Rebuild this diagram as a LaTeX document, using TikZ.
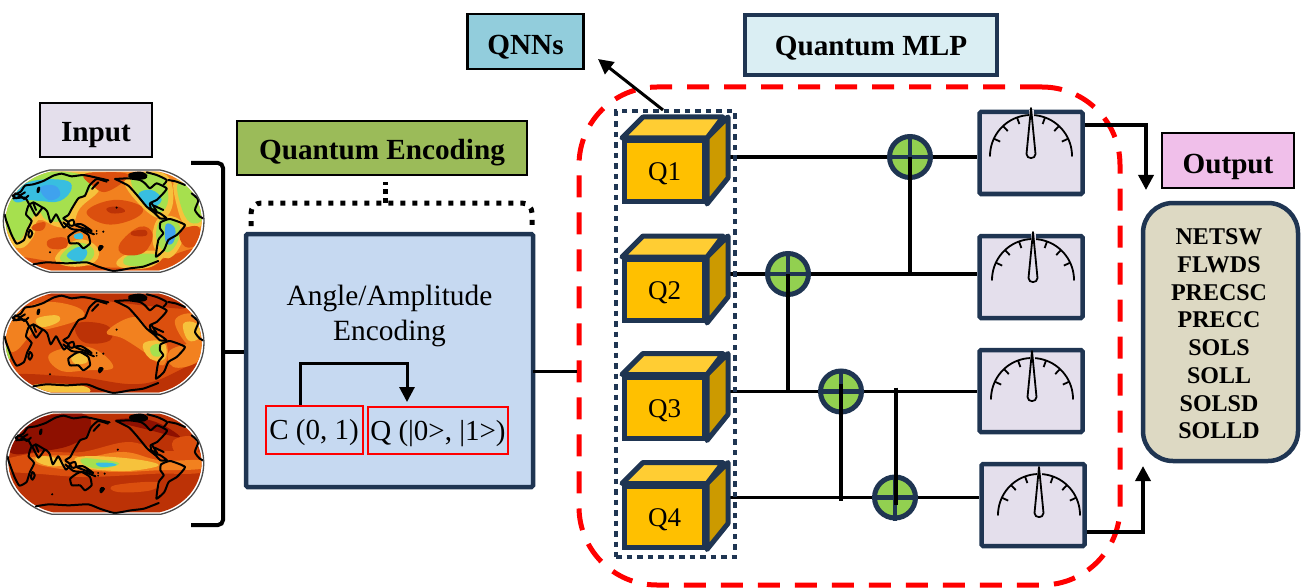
\documentclass[tikz,border=0pt]{standalone}
\usepackage{fontspec}
\setmainfont{Liberation Serif}
\usetikzlibrary{arrows.meta, backgrounds, calc}
\definecolor{navy}{HTML}{1F3552}
\definecolor{lilac}{HTML}{E4DFEC}
\definecolor{qegreen}{HTML}{9BBB59}
\definecolor{qnnblue}{HTML}{92CDDC}
\definecolor{mlpblue}{HTML}{DAEEF3}
\definecolor{outpink}{HTML}{F0BFEA}
\definecolor{outtan}{HTML}{DDD9C3}
\definecolor{encblue}{HTML}{C6D9F1}
\definecolor{cubefront}{HTML}{FFC000}
\definecolor{cubetop}{HTML}{FFCD33}
\definecolor{cubeside}{HTML}{CC9A00}
\definecolor{gategreen}{HTML}{92D050}
\definecolor{mapcy}{HTML}{38BEE0}
\definecolor{mapbl}{HTML}{3FA2EE}
\definecolor{mapgr}{HTML}{A6E04E}
\definecolor{mapye}{HTML}{F6C23C}
\definecolor{mapor}{HTML}{F2811F}
\definecolor{mapdo}{HTML}{DB4F0E}
\definecolor{maprd}{HTML}{BC3206}
\definecolor{mapdk}{HTML}{8E1000}
\tikzset{%
	tag/.style={draw, rectangle, line width=2.5pt, inner sep=0pt, font=\fontsize{29.2}{32}\selectfont\bfseries, text depth=6pt},
	navybox/.style={draw=navy, rectangle, line width=4.5pt, rounded corners=1.5pt, inner sep=0pt},
	redbox/.style={draw=red, rectangle, line width=2pt, inner sep=0pt, font=\fontsize{29}{32}\selectfont, text height=25.6pt, text depth=6pt},
	qcube/.style={draw=navy, rectangle, line width=5pt, minimum width=80pt, minimum height=61pt,%
		inner sep=0pt, fill=cubefront, font=\fontsize{27}{30}\selectfont, text height=25pt, text depth=6pt},
	cubeface/.style={draw=navy, line width=5pt, line join=round},
	gate/.style={draw=navy, circle, line width=5pt, minimum size=41pt, inner sep=0pt, fill=gategreen},
	meter/.style={navybox, minimum width=103pt, minimum height=82pt, fill=lilac},
	wire/.style={line width=3.5pt},
	sel/.style={-{Triangle[length=15pt,width=15pt]}, line width=3.5pt},
	dial/.style={line width=1.8pt},
	coast/.style={line width=2pt, line join=round, line cap=round}
}

\newcommand{\blob}[2]{\fill[#1] plot[smooth cycle, tension=.7] coordinates {#2};}
\newcommand{\mapedge}{(150,15) .. controls (75,30) and (10,90) .. (10,168) .. controls (10,245) and (75,305) .. (150,322) -- (480,322) .. controls (555,305) and (612,245) .. (612,168) .. controls (612,90) and (555,30) .. (480,15) -- cycle}
\newcommand{\mapinner}{(153,20) .. controls (80,36) and (17,94) .. (17,168) .. controls (17,240) and (80,300) .. (153,316) -- (477,316) .. controls (550,300) and (605,240) .. (605,168) .. controls (605,94) and (550,36) .. (477,20) -- cycle}
\newcommand{\coastlines}{%
	% eurasia and africa
	\draw[coast] plot[smooth, tension=.3] coordinates {(38,92) (62,80) (75,62) (100,58) (130,48) (160,32) (185,26) (215,34) (250,30) (290,38) (325,46)};
	\draw[coast] plot[smooth, tension=.3] coordinates {(320,50) (290,42) (268,62) (255,92) (235,100) (216,130) (205,150) (190,160) (205,172) (192,188) (178,165) (168,148) (152,172) (142,140) (128,128) (108,152) (88,118) (78,148) (95,168) (82,195) (72,225) (50,236) (35,210) (18,165) (14,148)};
	\draw[coast] plot[smooth, tension=.3] coordinates {(40,100) (75,98) (88,118) (100,112) (118,122) (128,128)};
	\draw[coast] plot[smooth, tension=.4] coordinates {(38,92) (50,100) (62,92) (72,102) (85,92)};
	\draw[coast] plot[smooth, tension=.4] coordinates {(45,85) (60,90) (75,82)};
	\draw[coast] (100,115) -- (108,135);
	% americas
	\draw[coast] plot[smooth, tension=.3] coordinates {(345,42) (385,62) (415,95) (440,125) (465,145) (480,160) (500,160) (480,145) (455,135) (450,115) (470,105) (490,85) (500,70) (470,55) (450,70) (435,55) (420,45) (385,40) (345,42)};
	\draw[coast] plot[smooth cycle, tension=.3] coordinates {(482,172) (510,162) (555,180) (530,210) (505,225) (492,255) (468,275) (475,225) (490,205) (480,190)};
	\draw[coast] (462,122) -- (490,135);
	\draw[coast] (450,130) -- (470,138) -- (455,115);
	% antarctica
	\draw[coast] plot[smooth, tension=.3] coordinates {(100,298) (140,292) (200,295) (260,292) (295,305) (340,318) (390,310) (430,305) (475,288)};
	% right edge and greenland
	\draw[coast] plot[smooth, tension=.4] coordinates {(440,22) (470,30) (500,45) (490,60)};
	\draw[coast] plot[smooth, tension=.4] coordinates {(505,45) (530,50) (555,60)};
	\draw[coast] plot[smooth, tension=.4] coordinates {(575,85) (595,105) (585,135) (600,155) (610,160)};
	% australia and islands
	\draw[coast] plot[smooth cycle, tension=.3] coordinates {(205,215) (225,200) (240,195) (265,210) (270,235) (250,250) (235,235) (210,235)};
	\draw[coast] plot[smooth cycle, tension=.5] coordinates {(90,195) (97,205) (90,218) (85,210)};
	\draw[coast] plot[smooth, tension=.4] coordinates {(190,172) (215,192) (250,196) (282,208)};
	\draw[coast] plot[smooth cycle, tension=.5] coordinates {(205,170) (220,165) (222,180) (210,182)};
	\draw[coast] plot[smooth cycle, tension=.5] coordinates {(225,180) (245,178) (275,198) (250,190)};
	\draw[coast] plot[smooth, tension=.4] coordinates {(295,52) (285,62) (276,72)};
	\blob{black}{(300,240) (311,245) (299,259) (294,250)}
	\blob{black}{(385,27) (420,20) (442,30) (432,43) (395,41)}
	\blob{black}{(112,68) (120,66) (118,82) (110,82)}
	\fill (350,128) circle (3.5) (150,262) circle (3.5) (290,198) circle (3) (290,206) circle (3) (310,200) circle (3.5) (478,268) circle (3.5);
}
\newcommand{\worldmap}[3]{%
	\begin{scope}[shift={#1}, x=#2, y=-0.3333pt]
		\begin{scope}
			\clip \mapinner;
			#3
		\end{scope}
		\coastlines
		\draw[black!70, line width=1.3pt] \mapedge;
	\end{scope}
}
\newcommand{\layersa}{%
	\fill[mapor] (0,0) rectangle (630,336);
	\blob{mapdo}{(30,275) (200,295) (400,305) (590,250) (620,300) (300,340) (20,320)}
	\blob{mapye}{(5,130) (40,30) (130,10) (270,20) (300,70) (240,130) (215,185) (170,185) (115,165) (100,215) (60,250) (15,215)}
	\blob{mapgr}{(10,130) (45,45) (130,20) (240,28) (275,65) (225,115) (195,165) (140,165) (115,140) (85,180) (60,225) (25,200)}
	\blob{mapcy}{(40,90) (90,50) (190,45) (215,70) (180,108) (120,108) (85,105) (50,112)}
	\blob{mapbl}{(120,68) (165,62) (180,92) (145,105)}
	\blob{mapye}{(375,40) (490,25) (520,100) (490,160) (425,125)}
	\blob{mapgr}{(395,40) (480,32) (505,100) (478,145) (430,115)}
	\blob{mapcy}{(415,88) (455,75) (485,105) (450,128)}
	\blob{mapye}{(475,160) (540,165) (548,225) (505,280) (460,240)}
	\blob{mapgr}{(482,165) (535,175) (535,225) (502,262) (470,225)}
	\blob{mapbl}{(498,178) (525,190) (520,232) (498,232)}
	\blob{mapye}{(525,45) (590,80) (612,170) (560,185) (530,120)}
	\blob{mapgr}{(535,55) (590,90) (608,160) (570,172) (542,120)}
	\blob{mapye}{(165,280) (230,225) (290,245) (285,290) (215,305)}
	\blob{mapgr}{(180,278) (230,235) (278,250) (272,285) (215,298)}
	\blob{mapcy}{(200,272) (238,245) (262,262) (240,290)}
	\blob{mapcy}{(222,210) (245,205) (248,220) (228,222)}
	\blob{mapye}{(350,290) (400,262) (490,262) (455,305) (375,310)}
	\blob{mapgr}{(370,285) (400,268) (472,270) (450,298) (385,302)}
	\blob{mapdo}{(260,140) (340,105) (425,125) (405,160) (320,178)}
	\blob{maprd}{(320,130) (355,125) (375,140) (335,145)}
	\blob{mapdo}{(360,235) (420,185) (458,208) (432,262) (370,268)}
	\blob{maprd}{(395,200) (435,195) (438,212) (400,212)}
	\blob{mapdo}{(145,225) (195,218) (198,248) (150,250)}
	\blob{mapdo}{(100,180) (135,172) (128,195) (98,195)}
	\blob{mapdo}{(250,30) (300,22) (385,30) (320,80) (275,60)}
	\blob{mapdo}{(540,200) (595,185) (595,235) (555,245)}
}
\newcommand{\layersb}{%
	\fill[mapdo] (0,0) rectangle (630,336);
	\blob{maprd}{(20,265) (230,270) (430,290) (600,230) (620,320) (300,340) (10,320)}
	\blob{maprd}{(130,20) (480,15) (560,60) (480,60) (300,40)}
	\blob{maprd}{(230,110) (320,115) (330,160) (250,165)}
	\blob{mapor}{(20,110) (110,50) (215,55) (250,90) (150,125) (110,125) (50,190) (25,180)}
	\blob{mapye}{(110,95) (170,85) (175,105) (125,120)}
	\blob{mapor}{(320,135) (400,90) (450,130) (500,170) (490,235) (440,200) (370,155)}
	\blob{mapye}{(430,170) (490,165) (495,215) (450,215)}
	\blob{mapgr}{(452,180) (480,172) (482,205) (458,205)}
	\blob{mapor}{(525,100) (590,85) (610,170) (565,175)}
	\blob{mapye}{(550,110) (590,110) (600,150) (565,160)}
	\blob{mapor}{(150,200) (265,180) (340,240) (260,250) (180,250)}
	\blob{mapye}{(215,205) (250,200) (262,225) (225,230)}
	\blob{mapor}{(510,190) (600,170) (590,225) (520,240)}
	\blob{mapye}{(95,296) (170,290) (260,300) (250,322) (110,322)}
	\blob{mapgr}{(18,175) (28,185) (30,215) (20,215)}
}
\newcommand{\layersc}{%
	\fill[maprd] (0,0) rectangle (630,336);
	\blob{mapdk}{(25,110) (90,40) (240,20) (265,70) (205,115) (100,135) (30,140)}
	\blob{mapdk}{(340,40) (450,40) (540,90) (450,70)}
	\fill[mapdo] plot[smooth, tension=.6] coordinates {(10,155) (120,135) (240,135) (380,105) (480,130) (610,140) (610,195) (470,200) (380,205) (240,210) (100,200) (10,195)};
	\blob{mapdo}{(520,100) (580,90) (590,140) (530,140)}
	\blob{mapdo}{(340,235) (470,225) (450,250) (350,255)}
	\blob{mapor}{(90,150) (200,145) (260,150) (370,135) (480,160) (605,160) (605,185) (470,190) (360,195) (240,190) (170,185) (100,170)}
	\blob{mapye}{(105,150) (150,150) (190,170) (150,178) (105,165)}
	\blob{mapye}{(230,150) (360,152) (470,170) (440,185) (350,192) (240,180)}
	\blob{mapgr}{(240,155) (300,158) (355,170) (300,185) (250,175)}
	\blob{mapcy}{(285,168) (330,168) (345,175) (300,180)}
}

\begin{document}
\begin{tikzpicture}[x=1pt, y=-1pt]
	\useasboundingbox (0,0) rectangle (1308,588);

	% maps
	\worldmap{(0,165)}{0.3333pt}{\layersa}
	\worldmap{(0,287)}{0.3333pt}{\layersb}
	\worldmap{(3,407)}{0.328pt}{\layersc}

	% labels
	\node[tag, line width=2pt, fill=lilac, minimum width=112pt, minimum height=54pt, text height=30pt] (inp) at (96,130) {Input};
	\node[tag, fill=qegreen, minimum width=290pt, minimum height=54pt, text height=29.6pt] (qenc) at (382,148) {Quantum Encoding};
	\node[tag, fill=qnnblue, minimum width=116pt, minimum height=55pt, text height=31.6pt] (qnns) at (525.5,41.5) {QNNs};
	\node[tag, draw=navy, line width=4pt, fill=mlpblue, minimum width=252pt, minimum height=60pt, text height=25.6pt] (qmlp) at (871,45.5) {Quantum MLP};
	\node[tag, line width=2pt, fill=outpink, minimum width=132pt, minimum height=55pt, text height=31.6pt] (outp) at (1228,160.5) {Output};
	\node[navybox, fill=outtan, rounded corners=30pt, minimum width=155pt, minimum height=258pt] (outlist) at (1220.5,332) {};
	\node[font=\fontsize{24}{27.7}\selectfont\bfseries, align=center, inner sep=0pt] (outtext) at (1219,334)
		{NETSW\\FLWDS\\PRECSC\\PRECC\\SOLS\\SOLL\\SOLSD\\SOLLD};

	% encoding block
	\node[navybox, fill=encblue, minimum width=287pt, minimum height=253pt] (enc) at (389.5,360.5) {};
	\node[font=\fontsize{29.4}{34.4}\selectfont, align=center] (enctext) at (389.5,316) {Angle/Amplitude\\Encoding};
	\node[redbox, minimum width=97pt, minimum height=48pt] (cbit) at (314,429.5) {C (0, 1)};
	\node[redbox, minimum width=140pt, minimum height=47pt] (qbit) at (438,430.5) {Q (|0>, |1>)};
	\coordinate (encbend) at (407,363);
	\coordinate (enctip) at (407,402);
	\draw[sel, line width=3pt] ($(cbit.north)+(-14,0)$) |- (encbend) -- (enctip);

	% brace from the maps
	\coordinate (bracetop) at (191,163);
	\coordinate (bracebot) at (191,525);
	\coordinate (bracemid) at (223,352);
	\draw[line width=4pt, rounded corners=5pt] (bracetop) -- (bracetop -| bracemid) -- (bracebot -| bracemid) -- (bracebot);
	\draw[line width=4pt] (bracemid) -- (bracemid -| enc.west);

	% dotted bracket
	\coordinate (brkleft) at (251,226);
	\coordinate (brkright) at (532,226);
	\coordinate (brkstem) at (385,203);
	\coordinate (brkend) at (385,182);
	\draw[line width=5pt, dash pattern=on 5pt off 7pt, rounded corners=10pt] (brkleft) -- (brkleft |- brkstem) -- (brkright |- brkstem) -- (brkright);
	\draw[line width=5pt, dash pattern=on 5pt off 4pt] (brkstem) -- (brkend);

	% quantum part
	\node[draw=red, rectangle, line width=5pt, dash pattern=on 22pt off 15pt, rounded corners=78pt,%
		minimum width=541pt, minimum height=498pt] (frame) at (849.5,336) {};
	\coordinate (encout) at (533,371);
	\draw[line width=3pt] (encout) -- (encout -| frame.west);

	\node[draw=navy, rectangle, line width=4pt, dash pattern=on 5.5pt off 5pt,%
		minimum width=119pt, minimum height=445pt] (qbox) at (675.5,334) {};
	\coordinate (qout) at (663,110);
	\coordinate (qtip) at (598,59);
	\draw[sel, line width=3pt] (qout) -- (qtip);

	\foreach \name/\ypos/\lab in {q1/171/Q1, q2/290/Q2, q3/407.5/Q3, q4/516.5/Q4}{
		\node[qcube] (\name) at (664.5,\ypos) {\lab};
		\draw[cubeface, fill=cubeside] (\name.north east) -- ++(21,-21) -- ++(0,61) -- (\name.south east) -- cycle;
		\draw[cubeface, fill=cubetop] (\name.north west) -- ++(21,-21) -- ++(80,0) -- (\name.north east) -- cycle;
	}

	\node[gate] (g1) at (910,157) {};
	\node[gate] (g2) at (788,274) {};
	\node[gate] (g3) at (841,391.5) {};
	\node[gate] (g4) at (895,497.5) {};
	\foreach \g in {g1,g2,g3,g4}{
		\draw[navy, line width=4.5pt] (\g.north) -- (\g.south);
		\draw[navy, line width=4.5pt] (\g.west) -- (\g.east);
	}

	% meters
	\foreach \i/\ypos/\xmid/\dx/\dy in {1/153/1031/0/3, 2/277/1031/2/3, 3/391/1031/1/8, 4/505/1033/6/10}{
		\node[meter] (m\i) at (\xmid,\ypos) {};
		\begin{scope}[shift={($(m\i.center)+(\dx,\dy)$)}]
			\draw[dial, line cap=round] plot[domain=0:180, samples=40] ({41*cos(\x)},{-41*sin(\x)});
			\foreach \a in {25,47,70,110,133,155}
				\draw[dial] ({41*cos(\a)},{-41*sin(\a)}) -- ({34*cos(\a)},{-34*sin(\a)});
			\draw[lilac, line width=5pt] (0,-46) -- (0,-30);
			\draw[dial, fill=lilac, line join=round] (0,-48) -- (4.5,-2) .. controls (4.5,3.5) and (-4.5,3.5) .. (-4.5,-2) -- cycle;
		\end{scope}
	}

	% wires go behind the gates and cubes
	\begin{scope}[on background layer]
		\draw[wire] (q1.east |- g1) -- (g1) -- (m1.west |- g1);
		\draw[wire] (q2.east |- g2) -- (g2) -- (m2.west |- g2);
		\draw[wire] (q3.east |- g3) -- (g3) -- (m3.west |- g3);
		\draw[wire] (q4.east |- g4) -- (g4) -- (m4.west |- g4);
	\end{scope}

	% cnot links
	\draw[wire] (g1.center) -- (g1 |- g2);
	\draw[wire] (g2.center) -- (g2 |- g3);
	\draw[wire] ($(g3.center)+(0,-8)$) -- ($(g3 |- g4)+(0,3)$);
	\draw[wire] ($(g4 |- g3)+(1,-4)$) -- ($(g4.center)+(1,7)$);

	% to the output
	\coordinate (outa) at (1146,190);
	\coordinate (outb) at (1143,466);
	\draw[sel] ($(m1.east)+(0,-28)$) -| (outa);
	\draw[sel] ($(m4.east)+(0,27)$) -| (outb);
\end{tikzpicture}
\end{document}
